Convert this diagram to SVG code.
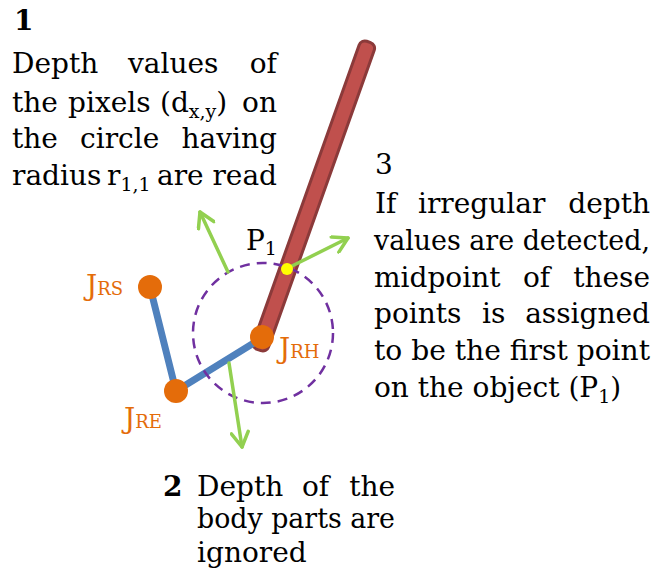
<svg xmlns="http://www.w3.org/2000/svg" width="662" height="588" viewBox="0 0 662 588">
<style>
text{font-family:"DejaVu Serif","Liberation Serif",serif;font-size:28px;fill:#000}
.b{font-weight:bold}
.e{text-anchor:end}
.j{fill:#e46c0a;font-size:28px}
.js{font-size:18px}
.sub{font-size:19px}
.green{stroke:#92d050;stroke-width:3.5;fill:none;stroke-linecap:round}
.bone{stroke:#4f81bd;stroke-width:7;fill:none;stroke-linecap:round}
.joint{fill:#e46c0a}
</style>
<defs>
<marker id="ah" markerUnits="userSpaceOnUse" viewBox="0 0 20 20" markerWidth="20" markerHeight="20" refX="17" refY="10" orient="auto">
<path d="M2.5,1.5 L17,10 L2.5,18.5" fill="none" stroke="#92d050" stroke-width="3.5" stroke-linecap="round" stroke-linejoin="round"/>
</marker>
</defs>
<g id="object">
<rect x="-8" y="-327" width="16" height="327" rx="6" transform="translate(259,350) rotate(19.6)" fill="#c0504d" stroke="#8b3a3a" stroke-width="3"/>
</g>
<g id="connectors">
<path class="bone" d="M150,287 L176,391 L262,338"/>
<circle cx="263" cy="333" r="70" fill="none" stroke="#7030a0" stroke-width="2.5" stroke-dasharray="10,7"/>
<path class="green" d="M228,272 L200,212" marker-end="url(#ah)"/>
<path class="green" d="M288,268 L348,238" marker-end="url(#ah)"/>
<path class="green" d="M229,363 L242,447" marker-end="url(#ah)"/>
</g>
<g id="JRS"><circle class="joint" cx="150" cy="287" r="12"/><text class="j" x="86" y="295">J<tspan class="js">RS</tspan></text></g>
<g id="JRE"><circle class="joint" cx="176" cy="391" r="12"/><text class="j" x="124" y="428">J<tspan class="js">RE</tspan></text></g>
<g id="JRH"><circle class="joint" cx="262" cy="337" r="12"/><text class="j" x="279" y="358">J<tspan class="js">RH</tspan></text></g>
<g id="P1"><circle cx="287" cy="269" r="6" fill="#ffff00"/><text x="246" y="250">P<tspan class="sub" dy="5">1</tspan></text></g>
<g id="note1">
<text class="b" x="14" y="30">1</text>
<text x="12" y="73">Depth</text><text x="128" y="73">values</text><text class="e" x="277" y="73">of</text>
<text x="12" y="112">the</text><text x="68" y="112">pixels</text><text x="160" y="112">(d<tspan class="sub" dy="6">x,y</tspan><tspan dy="-6">)</tspan></text><text class="e" x="277" y="112">on</text>
<text x="12" y="148">the</text><text x="80" y="148">circle</text><text class="e" x="277" y="148">having</text>
<text x="12" y="185">radius</text><text x="107" y="185">r<tspan class="sub" dy="6">1,1</tspan></text><text x="157" y="185">are</text><text class="e" x="277" y="185">read</text>
</g>
<g id="note3">
<text x="375" y="174">3</text>
<text x="375" y="213">If</text><text x="418" y="213">irregular</text><text class="e" x="650" y="213">depth</text>
<text x="374" y="250" textLength="276" lengthAdjust="spacingAndGlyphs">values are detected,</text>
<text x="374" y="287">midpoint</text><text x="523" y="287">of</text><text class="e" x="650" y="287">these</text>
<text x="374" y="323">points</text><text x="482" y="323">is</text><text class="e" x="650" y="323">assigned</text>
<text x="374" y="360" textLength="276" lengthAdjust="spacingAndGlyphs">to be the first point</text>
<text x="374" y="397">on the object (P<tspan class="sub" dy="6">1</tspan><tspan dy="-6">)</tspan></text>
</g>
<g id="note2">
<text class="b" x="163" y="496">2</text>
<text x="197" y="496">Depth</text><text x="302" y="496">of</text><text class="e" x="395" y="496">the</text>
<text x="197" y="528" textLength="198" lengthAdjust="spacingAndGlyphs">body parts are</text>
<text x="197" y="562">ignored</text>
</g>
</svg>
